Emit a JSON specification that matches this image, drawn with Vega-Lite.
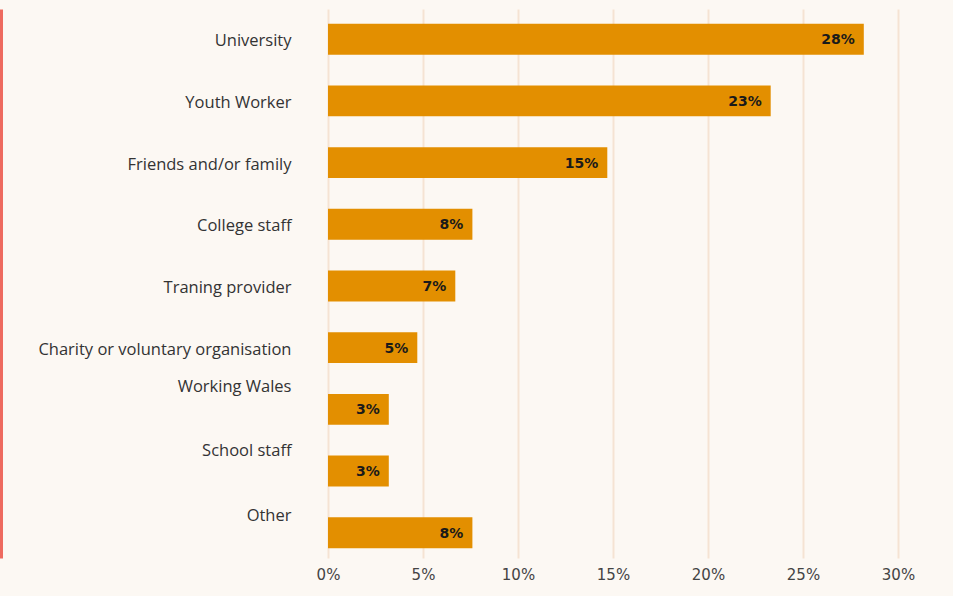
{
  "$schema": "https://vega.github.io/schema/vega-lite/v6.json",
  "width": 570,
  "height": 549,
  "autosize": {"type": "none"},
  "padding": {"left": 328, "top": 9, "right": 55, "bottom": 38},
  "background": "#fcf8f3",
  "config": {"view": {"stroke": null}},
  "data": {
    "values": [
      {"source": "University", "pct": 28.2, "label": "28%"},
      {"source": "Youth Worker", "pct": 23.3, "label": "23%"},
      {"source": "Friends and/or family", "pct": 14.7, "label": "15%"},
      {"source": "College staff", "pct": 7.6, "label": "8%"},
      {"source": "Traning provider", "pct": 6.7, "label": "7%"},
      {"source": "Charity or voluntary organisation", "pct": 4.7, "label": "5%"},
      {"source": "Working Wales", "pct": 3.2, "label": "3%"},
      {"source": "School staff", "pct": 3.2, "label": "3%"},
      {"source": "Other", "pct": 7.6, "label": "8%"}
    ]
  },
  "resolve": {"axis": {"y": "independent"}},
  "layer": [
    {
      "mark": {"type": "bar", "color": "#e38f00"},
      "encoding": {
        "y": {
          "field": "source",
          "type": "nominal",
          "sort": null,
          "scale": {"paddingInner": 0.5, "paddingOuter": 0.2, "align": 0.6},
          "axis": {
            "title": null,
            "domain": false,
            "ticks": false,
            "grid": false,
            "labelFont": "Open Sans",
            "labelFontSize": 16.5,
            "labelColor": "#333333",
            "labelPadding": 37,
            "labelLimit": 320,
            "labelOffset": {
              "condition": [
                {"test": "datum.value === 'Working Wales'", "value": -22},
                {"test": "datum.value === 'School staff'", "value": -20},
                {"test": "datum.value === 'Other'", "value": -17}
              ],
              "value": 2
            }
          }
        },
        "x": {
          "field": "pct",
          "type": "quantitative",
          "scale": {"domain": [0, 30], "nice": false},
          "axis": {
            "title": null,
            "values": [0, 5, 10, 15, 20, 25, 30],
            "labelExpr": "datum.value + '%'",
            "labelFlush": false,
            "domain": false,
            "ticks": false,
            "grid": true,
            "gridColor": "#f5e3d3",
            "gridWidth": 2,
            "labelFont": "DejaVu Sans",
            "labelFontSize": 15,
            "labelColor": "#444444",
            "labelPadding": 9
          }
        }
      }
    },
    {
      "mark": {
        "type": "text",
        "align": "right",
        "dx": -9,
        "dy": 1,
        "font": "DejaVu Sans",
        "fontWeight": "bold",
        "fontSize": 14,
        "color": "#1a1a1a"
      },
      "encoding": {
        "y": {
          "field": "source",
          "type": "nominal",
          "sort": null,
          "axis": {
            "orient": "left",
            "title": null,
            "labels": false,
            "ticks": false,
            "grid": false,
            "domain": true,
            "domainColor": "#ee6a5f",
            "domainWidth": 3,
            "offset": 327
          }
        },
        "x": {"field": "pct", "type": "quantitative"},
        "text": {"field": "label"}
      }
    }
  ]
}
